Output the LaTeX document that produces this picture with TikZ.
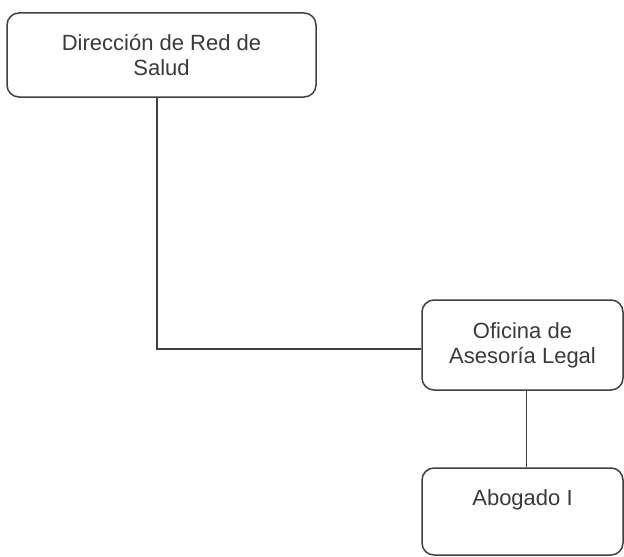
\documentclass[tikz,border=0pt]{standalone}
\usepackage{fontspec}
\setmainfont{Liberation Sans}
\definecolor{trazo}{HTML}{404040}

\begin{document}
\begin{tikzpicture}
        [x=0.5pt, y=-0.5pt, every node/.style={draw=trazo, text=trazo!90!black, rounded corners=6pt, line width=0.75pt, align=center, inner sep=0, font=\fontsize{11}{12.5}\selectfont}, enlace/.style={draw=trazo, line width=0.75pt}]

        \useasboundingbox (0, 0) rectangle (624, 556);

        \node[minimum width=154.5pt, minimum height=42pt] (dir) at (161.5, 55) {Direcci\'on de Red de\\Salud};
        \node[minimum width=100.5pt, minimum height=45pt] (ofi) at (522.5, 345) {Oficina de\\Asesor\'ia Legal};
        \node[minimum width=100.5pt, minimum height=43.5pt, text height=8pt, text depth=14pt] (abo) at (522.5, 511.5) {Abogado I};

        \coordinate (codo) at (157, 349);

        \draw[enlace] (dir.south -| codo) -- (codo) -- (codo -| ofi.west);
        \draw[enlace] ([xshift=2pt]ofi.south) -- ([xshift=2pt]abo.north);

      \end{tikzpicture}
\end{document}
